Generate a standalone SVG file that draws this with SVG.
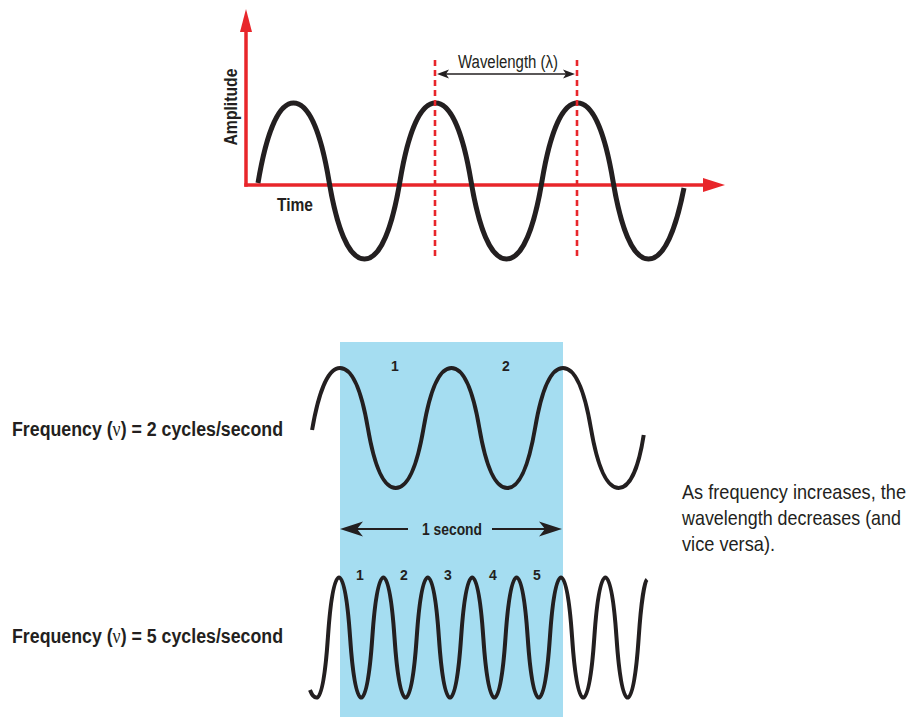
<svg xmlns="http://www.w3.org/2000/svg" width="917" height="717" viewBox="0 0 917 717">
<style>
.wave{fill:none;stroke:#231f20;stroke-linecap:butt;stroke-linejoin:round}
.axis{stroke:#e8262b;stroke-width:3.5;fill:none}
.dash{stroke:#e8262b;stroke-width:2.6;stroke-dasharray:6 4;fill:none}
.b{font-family:"Liberation Sans",Arial,sans-serif;font-weight:bold;fill:#231f20}
.r{font-family:"Liberation Sans",Arial,sans-serif;fill:#231f20}
.ar{fill:#231f20}
.ln{stroke:#231f20;fill:none}
</style>
<rect id="band" x="340" y="342" width="223" height="375" fill="#a5ddf1"/>
<g id="axes">
<line class="axis" x1="246" y1="186.7" x2="246" y2="30"/>
<polygon points="246,9 240,32 252,32" fill="#e8262b"/>
<line class="axis" x1="244.3" y1="185" x2="706" y2="185"/>
<polygon points="725,185 703,178 703,192" fill="#e8262b"/>
</g>
<g id="wave-top">
<path class="wave" stroke-width="5" d="M258,183 c7.81,-46.8 19.53,-80 35.5,-80 s27.69,31.2 35.5,78 s19.53,78 35.5,78 s27.69,-31.2 35.5,-78 s19.53,-78 35.5,-78 s27.69,31.2 35.5,78 s19.53,78 35.5,78 s27.69,-31.2 35.5,-78 s19.53,-78 35.5,-78 s27.69,31.2 35.5,78 s19.53,78 35.5,78 s27.69,-31.2 35.5,-71"/>
</g>
<g id="wavelength-marks">
<line class="dash" x1="435" y1="60" x2="435" y2="256"/>
<line class="dash" x1="577" y1="60" x2="577" y2="256"/>
</g>
<g id="connectors">
<line class="ln" stroke-width="1.3" x1="444" y1="74" x2="568" y2="74"/>
<path class="ar" d="M437,74 L449,69.5 L446,74 L449,78.5 Z"/>
<path class="ar" d="M575,74 L563,69.5 L566,74 L563,78.5 Z"/>
<line class="ln" stroke-width="2.2" x1="352" y1="529" x2="408" y2="529"/>
<path class="ar" d="M340,529 L363,521.5 L357,529 L363,536.5 Z"/>
<line class="ln" stroke-width="2.2" x1="492" y1="529" x2="550" y2="529"/>
<path class="ar" d="M562,529 L539,521.5 L545,529 L539,536.5 Z"/>
</g>
<g id="labels-top">
<text class="b" font-size="18" transform="translate(237,107) rotate(-90)" text-anchor="middle" textLength="77" lengthAdjust="spacingAndGlyphs">Amplitude</text>
<text class="b" font-size="18" x="277" y="211" textLength="36" lengthAdjust="spacingAndGlyphs">Time</text>
<text class="r" font-size="18" x="458" y="68" textLength="100" lengthAdjust="spacingAndGlyphs">Wavelength (λ)</text>
</g>
<g id="wave-2">
<path class="wave" stroke-width="4" d="M312.1,430 c6.13,-36 15.33,-62 27.875,-62 s21.74,24 27.875,60 s15.33,60 27.875,60 s21.74,-24 27.875,-60 s15.33,-60 27.875,-60 s21.74,24 27.875,60 s15.33,60 27.875,60 s21.74,-24 27.875,-60 s15.33,-60 27.875,-60 s21.74,24 27.875,60 s15.33,60 27.875,60 s20.5,-24 25,-53"/>
<text class="b" font-size="14" x="395" y="371" text-anchor="middle">1</text>
<text class="b" font-size="14" x="506" y="371" text-anchor="middle">2</text>
</g>
<g id="wave-5">
<path class="wave" stroke-width="4" d="M310,690 Q313,698 316.8,697.5 c5,0 8.66,-24 11.1,-60 s6.11,-60 11.1,-60 s8.66,24 11.1,60 s6.11,60 11.1,60 s8.66,-24 11.1,-60 s6.11,-60 11.1,-60 s8.66,24 11.1,60 s6.11,60 11.1,60 s8.66,-24 11.1,-60 s6.11,-60 11.1,-60 s8.66,24 11.1,60 s6.11,60 11.1,60 s8.66,-24 11.1,-60 s6.11,-60 11.1,-60 s8.66,24 11.1,60 s6.11,60 11.1,60 s8.66,-24 11.1,-60 s6.11,-60 11.1,-60 s8.66,24 11.1,60 s6.11,60 11.1,60 s8.66,-24 11.1,-60 s6.11,-60 11.1,-60 s8.66,24 11.1,60 s6.11,60 11.1,60 s8.66,-24 11.1,-60 s6.11,-60 11.1,-60 s8.66,24 11.1,60 s6.11,60 11.1,60 s8.66,-24 11.1,-60 s6,-56 8.3,-58"/>
<text class="b" font-size="14" x="360" y="580" text-anchor="middle">1</text>
<text class="b" font-size="14" x="404" y="580" text-anchor="middle">2</text>
<text class="b" font-size="14" x="448" y="580" text-anchor="middle">3</text>
<text class="b" font-size="14" x="493" y="580" text-anchor="middle">4</text>
<text class="b" font-size="14" x="537" y="580" text-anchor="middle">5</text>
</g>
<g id="second-label">
<text class="b" font-size="17" x="452" y="535" text-anchor="middle" textLength="60" lengthAdjust="spacingAndGlyphs">1 second</text>
</g>
<g id="freq-labels">
<text class="b" font-size="20" x="12" y="436" textLength="271" lengthAdjust="spacingAndGlyphs">Frequency (<tspan font-family="Liberation Serif" font-weight="normal">ν</tspan>) = 2 cycles/second</text>
<text class="b" font-size="20" x="12" y="643" textLength="271" lengthAdjust="spacingAndGlyphs">Frequency (<tspan font-family="Liberation Serif" font-weight="normal">ν</tspan>) = 5 cycles/second</text>
</g>
<g id="note">
<text class="r" font-size="21" x="682" y="499" textLength="224" lengthAdjust="spacingAndGlyphs">As frequency increases, the</text>
<text class="r" font-size="21" x="682" y="525" textLength="219" lengthAdjust="spacingAndGlyphs">wavelength decreases (and</text>
<text class="r" font-size="21" x="682" y="551" textLength="93" lengthAdjust="spacingAndGlyphs">vice versa).</text>
</g>
</svg>
